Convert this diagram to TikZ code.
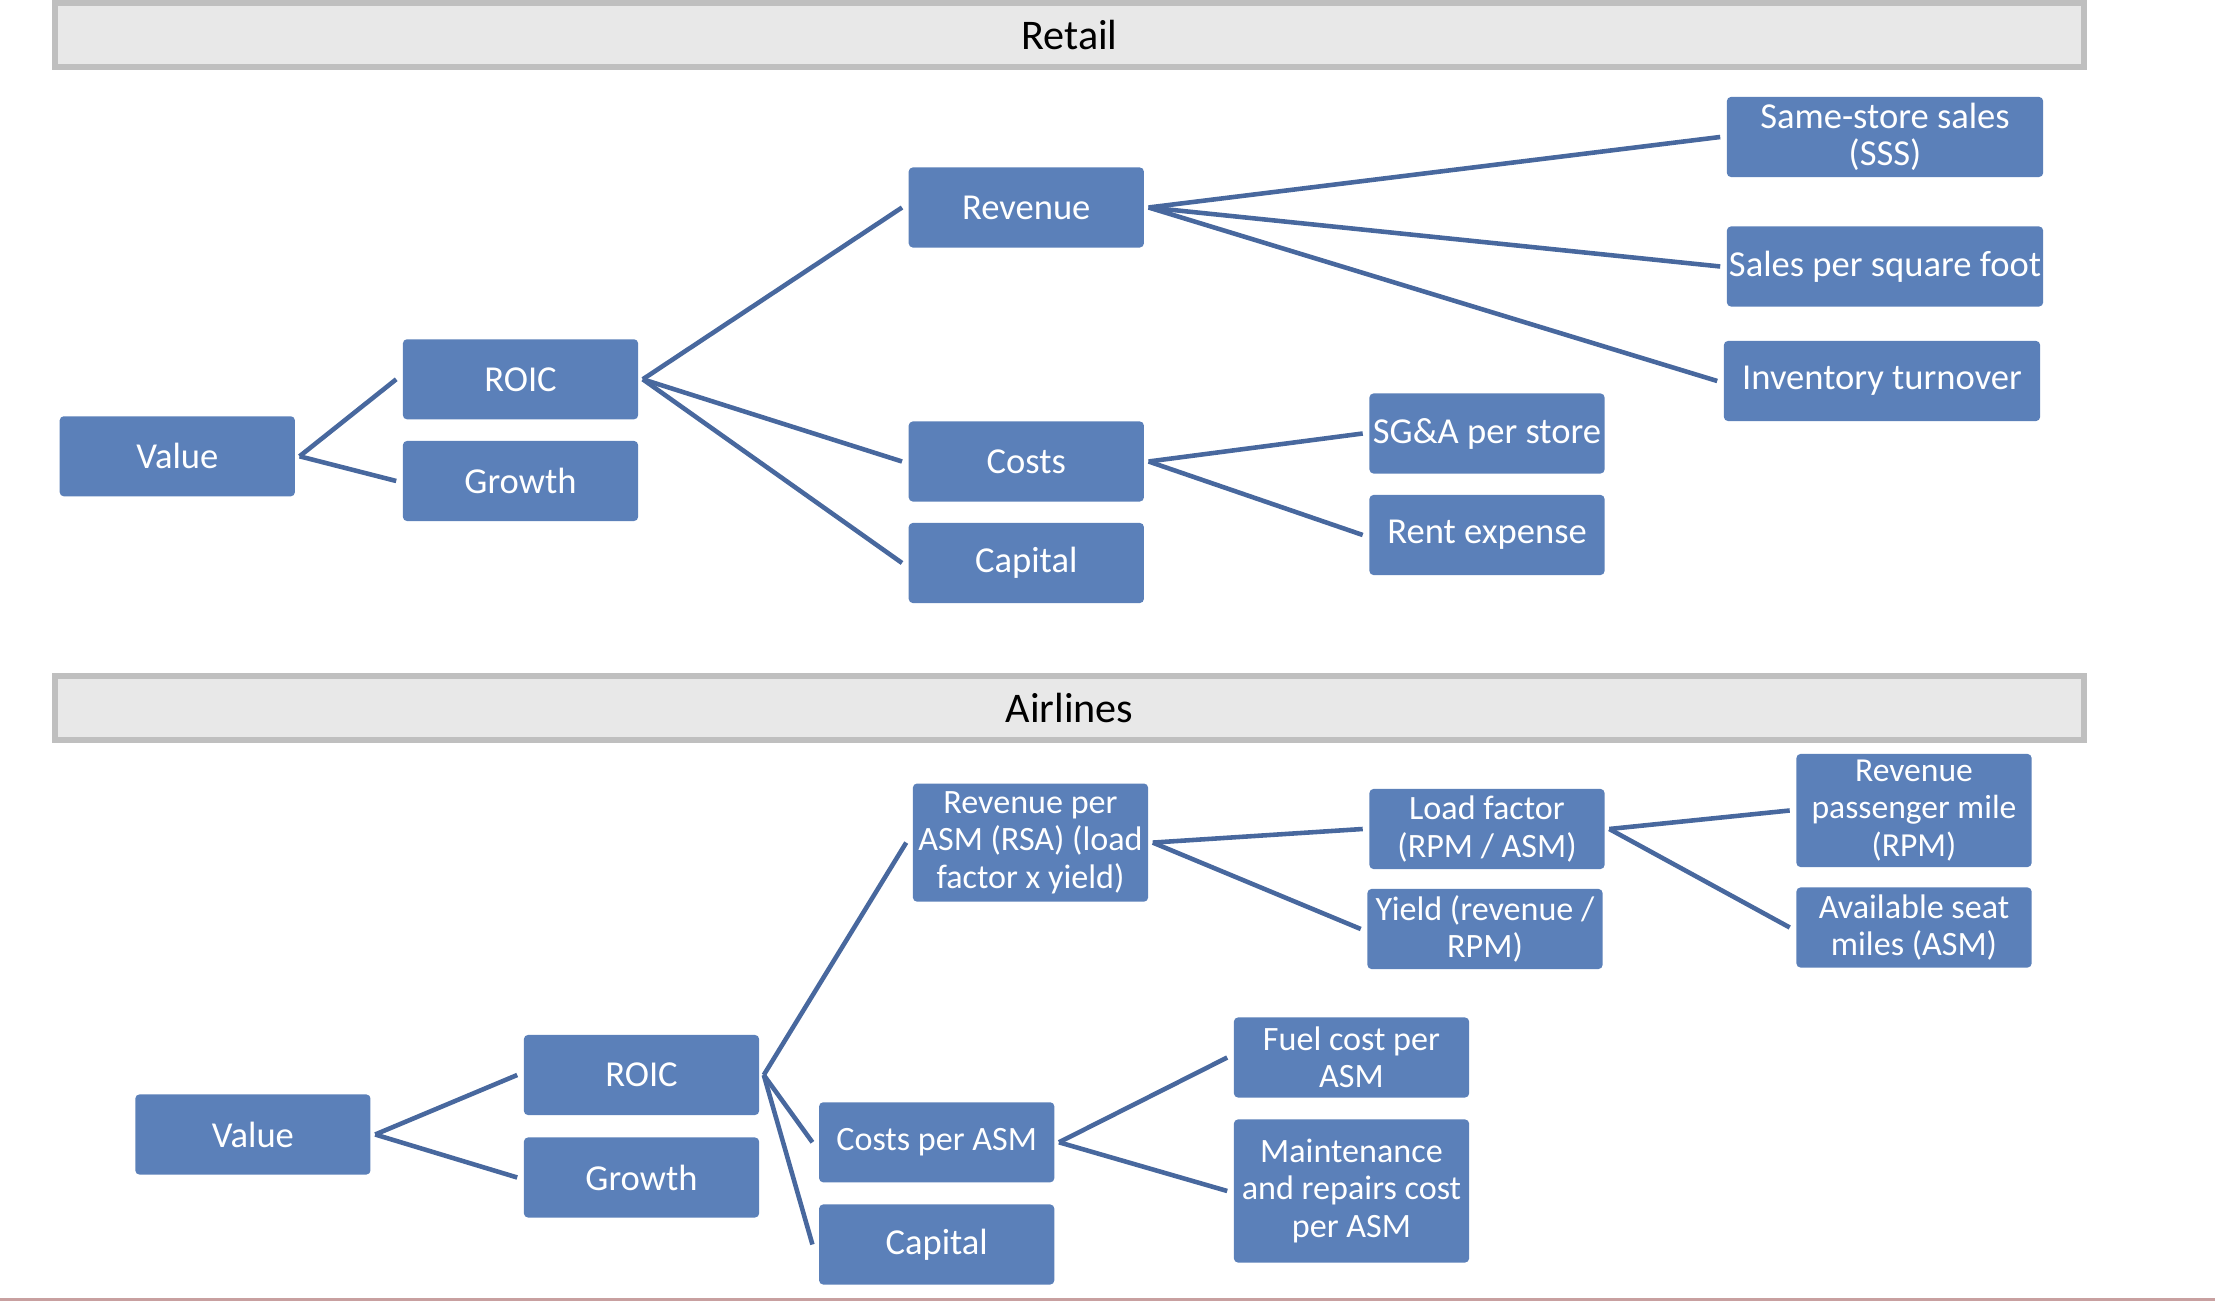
\documentclass[tikz,border=0pt]{standalone}
\usepackage{fontspec}
\setmainfont{Carlito}
\usepackage{tikz}
\usetikzlibrary{calc,positioning}

\definecolor{boxblue}{RGB}{91,128,185}
\definecolor{lineblue}{RGB}{72,104,158}
\definecolor{bannergray}{RGB}{232,232,232}
\definecolor{bannerline}{RGB}{191,191,191}
\definecolor{footline}{RGB}{200,160,160}

\begin{document}
\begin{tikzpicture}[x=0.01cm,y=-0.01cm]
    \tikzset{box/.style={fill=boxblue, rounded corners=0.04cm, text=white, align=center,
            inner sep=0pt, minimum width=2.35cm, minimum height=0.80cm,
            font=\fontsize{10.4}{10.6}\selectfont},
        smallbox/.style={box, font=\fontsize{9.7}{10.6}\selectfont},
        widebox/.style={box, minimum width=3.16cm},
        banner/.style={fill=bannergray, draw=bannerline, line width=1.7pt,
            minimum width=20.27cm, minimum height=0.64cm, inner sep=0pt,
            font=\fontsize{12}{14}\selectfont},
        link/.style={draw=lineblue, line width=1.3pt},}
    \useasboundingbox (0,0) rectangle (2215,1301);

    \node[banner] (retail) at (1069.5,35) {Retail};
    \node[box] (rvalue) at (177.3,456.3) {Value};
    \node[box] (rroic) at (520.5,379.3) {ROIC};
    \node[box] (rgrowth) at (520.5,481) {Growth};
    \node[box] (rrev) at (1026.3,207.5) {Revenue};
    \node[box] (rcost) at (1026.3,461.5) {Costs};
    \node[box] (rcap) at (1026.3,563) {Capital};
    \node[widebox] (sss) at (1885,137) {Same-store sales\\(SSS)};
    \node[widebox] (sqft) at (1885,266.5) {Sales per square foot};
    \node[widebox] (inv) at (1882,381) {Inventory turnover};
    \node[box] (sga) at (1487,433.5) {SG\&A per store};
    \node[box] (rent) at (1487,535) {Rent expense};

    \node[banner] (airlines) at (1069.5,708) {Airlines};
    \node[box] (avalue) at (252.9,1134.5) {Value};
    \node[box] (aroic) at (641.5,1075) {ROIC};
    \node[box] (agrowth) at (641.5,1177.5) {Growth};
    \node[smallbox, minimum height=1.18cm] (rasm) at (1030.5,842.6) {Revenue per\\ASM (RSA) (load\\factor x yield)};
    \node[smallbox] (casm) at (936.7,1142.3) {Costs per ASM};
    \node[box] (acap) at (936.7,1244.5) {Capital};
    \node[smallbox] (load) at (1487,829) {Load factor\\(RPM / ASM)};
    \node[smallbox] (yield) at (1485,929) {Yield (revenue /\\RPM)};
    \node[smallbox, minimum height=1.13cm, font=\fontsize{9.55}{10.7}\selectfont] (rpm) at (1914,810.5) {Revenue\\passenger mile\\(RPM)};
    \node[smallbox] (asm) at (1914,927.5) {Available seat\\miles (ASM)};
    \node[smallbox] (fuel) at (1351.5,1057.5) {Fuel cost per\\ASM};
    \node[smallbox, minimum height=1.43cm] (maint) at (1351.5,1191) {Maintenance\\and repairs cost\\per ASM};

    \foreach \a/\b in {rvalue/rroic, rvalue/rgrowth, rroic/rrev, rroic/rcost, rroic/rcap,
            rrev/sss, rrev/sqft, rrev/inv, rcost/sga, rcost/rent,
            avalue/aroic, avalue/agrowth, aroic/rasm, aroic/casm, aroic/acap,
            rasm/load, rasm/yield, load/rpm, load/asm, casm/fuel, casm/maint}
        \draw[link] ([xshift=0.04cm]\a.east) -- ([xshift=-0.06cm]\b.west);

    \draw[footline, line width=0.6pt] (0,1299.5) -- (2215,1299.5);
\end{tikzpicture}
\end{document}
